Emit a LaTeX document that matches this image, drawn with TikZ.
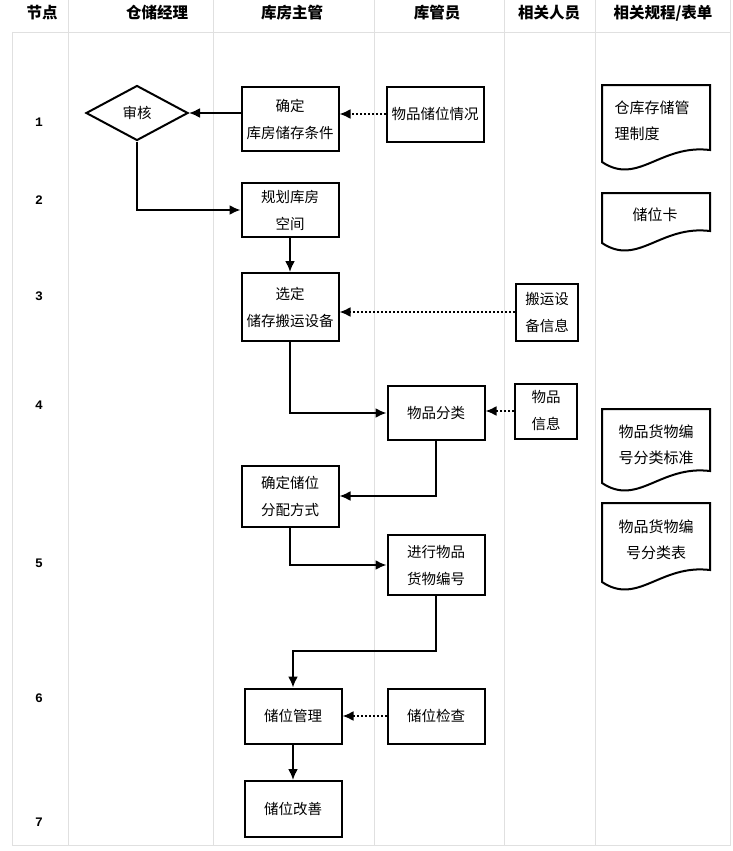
\documentclass[tikz,border=0pt]{standalone}
\usepackage{fontspec}
\setmainfont{Noto Sans CJK SC}
\newfontfamily\numfont{Liberation Mono}
\usetikzlibrary{arrows.meta,shapes.geometric,positioning,calc}
\definecolor{GridGray}{HTML}{E0E0E0}
\tikzset{
    block/.style = {draw, rectangle, line width=2pt,
        minimum height=55, minimum width=97,
        inner sep=0pt, align=center,
        font=\fontsize{14.5}{27}\selectfont},
    smallblock/.style = {block, minimum width=62},
    decision/.style = {draw, diamond, line width=2pt,
        minimum width=102, minimum height=55, inner sep=0pt,
        font=\fontsize{14.5}{27}\selectfont},
    doctext/.style = {align=center, inner sep=0pt,
        font=\fontsize{15}{26}\selectfont},
    head/.style = {font=\fontsize{15.5}{18}\selectfont\bfseries, inner sep=0pt},
    num/.style = {font=\fontsize{13}{14}\selectfont\numfont\bfseries, inner sep=0pt},
    grid/.style = {draw=GridGray, line width=0.8pt},
    flow/.style = {draw, line width=2pt, -{Latex[length=11pt,width=10pt]}},
    infoflow/.style = {flow, dotted}
}
% document shape: top-left x, top y, height
\newcommand{\docshape}[3]{%
    \draw [line width=2pt] (#1,#2) -- ++(108,0) -- ++(0,#3-12)
        .. controls ($(#1,#2)+(58,#3-18)$) and ($(#1,#2)+(36,#3+24)$) .. (#1,#2+#3) -- cycle;
}

\begin{document}
\begin{tikzpicture}[x=1pt,y=-1pt]
    \useasboundingbox [fill=white] (0,0) rectangle (733,851);
    \draw [grid] (12,32) -- (730,32);
    \draw [grid] (12,32) -- (12,845) -- (730,845) -- (730,0);
    \foreach \x in {68,213,374,504,595}
        \draw [grid] (\x,0) -- (\x,845);

    \node [head] (hnode) at (42,13) {节点};
    \node [head] (hmgr) at (157,13) {仓储经理};
    \node [head] (hsup) at (292,13) {库房主管};
    \node [head] (hkeep) at (437,13) {库管员};
    \node [head] (hrel) at (549,13) {相关人员};
    \node [head] (hdoc) at (663,13) {相关规程/表单};

    \foreach \n/\y in {1/122,2/200,3/296,4/405,5/563,6/698,7/822}
        \node [num] (n\n) at (39,\y) {\n};

    \node [decision] (audit) at (137,113) {审核};
    \node [block, minimum height=64] (cond) at (290,119) {确定\\库房储存条件};
    \node [block] (slotinfo) at (435,114) {物品储位情况};
    \draw [flow] (cond.west |- audit.east) -- (audit.east);
    \draw [infoflow] (slotinfo.west) -- (slotinfo.west -| cond.east);

    \node [block, minimum height=54] (plan) at (290,210) {规划库房\\空间};
    \draw [flow] (audit.south) |- (plan.west);

    \node [block, minimum height=68] (equip) at (290,307) {选定\\储存搬运设备};
    \node [smallblock, minimum height=57] (equipinfo) at (547,312) {搬运设\\备信息};
    \draw [flow] (plan) -- (equip);
    \draw [infoflow] (equipinfo.west) -- (equipinfo.west -| equip.east);

    \node [block, minimum height=54] (sort) at (436,413) {物品分类};
    \node [smallblock] (goodsinfo) at (546,411) {物品\\信息};
    \draw [flow] (equip.south) |- (sort.west);
    \draw [infoflow] (goodsinfo.west) -- (goodsinfo.west -| sort.east);

    \node [block, minimum height=61] (alloc) at (290,496) {确定储位\\分配方式};
    \draw [flow] (sort.south) |- (alloc.east);

    \node [block, minimum height=60] (code) at (436,565) {进行物品\\货物编号};
    \draw [flow] (alloc.south) |- (code.west);

    \node [block] (manage) at (293,716) {储位管理};
    \node [block] (check) at (436,716) {储位检查};
    \draw [flow] (code.south) -- ++(0,55) -| (manage.north);
    \draw [infoflow] (check.west) -- (manage.east);

    \node [block, minimum height=56] (improve) at (293,809) {储位改善};
    \draw [flow] (manage) -- (improve);

    \docshape{602}{85}{77}
    \node [doctext, align=left] (rule) at (652,121) {仓库存储管\\理制度};
    \docshape{602}{193}{50}
    \node [doctext] (card) at (655,215) {储位卡};
    \docshape{602}{409}{74}
    \node [doctext] (std) at (656,445) {物品货物编\\号分类标准};
    \docshape{602}{503}{79}
    \node [doctext] (table) at (656,540) {物品货物编\\号分类表};
\end{tikzpicture}
\end{document}
